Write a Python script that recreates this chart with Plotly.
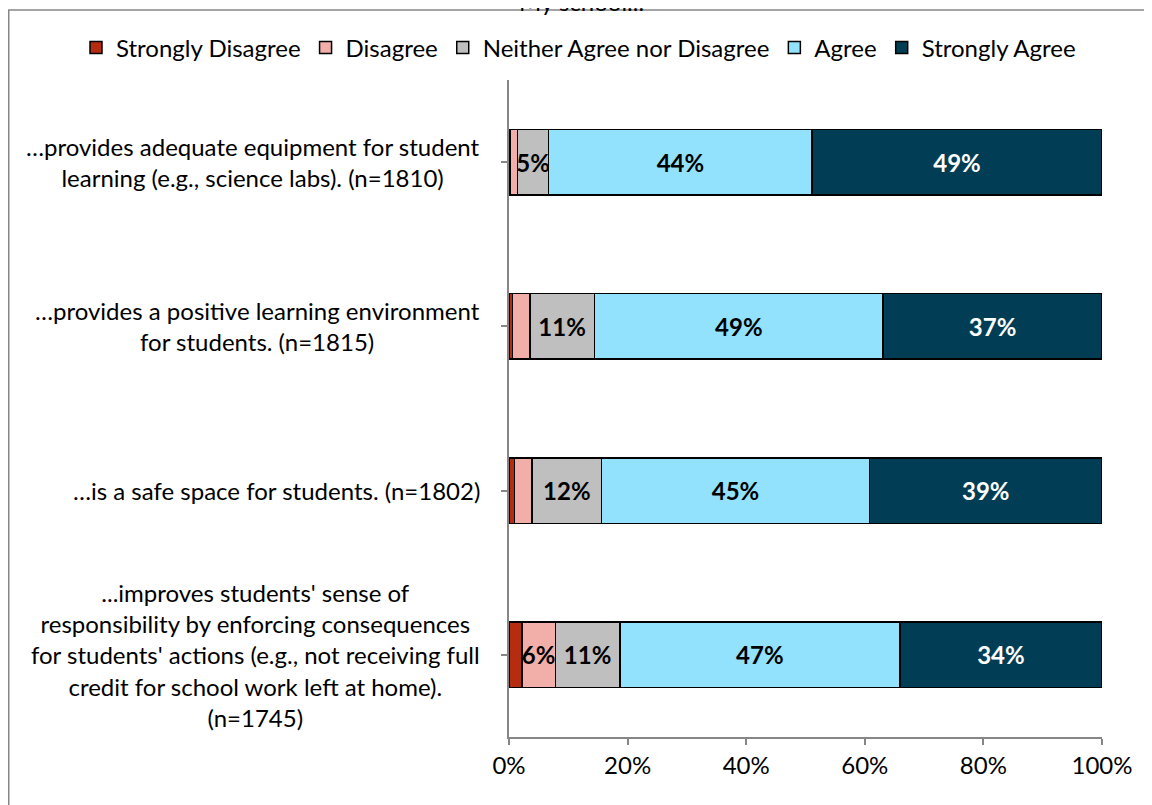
import plotly.graph_objects as go

categories = [
    "…provides adequate equipment for student<br>learning (e.g., science labs). (n=1810)",
    "…provides a positive learning environment<br>for students. (n=1815)",
    "…is a safe space for students. (n=1802)",
    "...improves students' sense of<br>responsibility by enforcing consequences<br>for students' actions (e.g., not receiving full<br>credit for school work left at home).<br>(n=1745)",
]
series_names = ["Strongly Disagree", "Disagree", "Neither Agree nor Disagree", "Agree", "Strongly Agree"]
strongly_disagree = [0.2, 0.6, 0.9, 2.2]
disagree = [1.2, 2.9, 3.0, 5.6]
neither = [5.3, 10.9, 11.7, 10.9]
agree = [44.4, 48.7, 45.2, 47.2]
strongly_agree = [48.9, 36.9, 39.2, 34.1]
values = [strongly_disagree, disagree, neither, agree, strongly_agree]
colors = ["#B52C10", "#F2AFA9", "#BFBFBF", "#93E2FD", "#013E55"]
label_colors = ["black", "black", "black", "black", "white"]
x_ticks = [0, 20, 40, 60, 80, 100]
x_tick_labels = ["0%", "20%", "40%", "60%", "80%", "100%"]
title_text = "My school..."

FONT = "Lato"
FS = 24
OFF = 8  # page body margin
W, H = 1152, 805
# plot area in page pixels: x 509..1102, y 80..737
L = 509 - OFF
T = 80 - OFF
pw = 593
ph = 657
R = W - L - pw
B = H - T - ph


def py(page_y):
    """page y pixel -> paper y"""
    return (T + ph - (page_y - OFF)) / ph


def px(page_x):
    return (page_x - OFF - L) / pw


fig = go.Figure()
ypos = list(range(len(categories)))[::-1]
for name, vals, col, lc in zip(series_names, values, colors, label_colors):
    txt = [f"{round(v):.0f}%" if v >= 5 else "" for v in vals]
    fig.add_trace(go.Bar(
        name=name, y=ypos, x=vals, orientation="h",
        marker=dict(color=col, line=dict(color="black", width=1.5)),
        text=txt, textposition="inside", insidetextanchor="middle",
        textangle=0, constraintext="none",
        textfont=dict(family=FONT, size=FS, color=lc, weight="bold"),
        hoverinfo="skip",
    ))

annotations = []
for yp, cat in zip(ypos, categories):
    annotations.append(dict(
        x=0, xref="paper", y=yp, yref="y", text=cat, showarrow=False,
        xanchor="right", yanchor="middle", align="center", xshift=-27,
        font=dict(family=FONT, size=FS, color="black"),
    ))
annotations.append(dict(
    x=px(581), xref="paper", y=py(1), yref="paper", text=title_text, showarrow=False,
    xanchor="center", yanchor="middle",
    font=dict(family=FONT, size=FS, color="black"),
))

fig.update_layout(
    width=W, height=H,
    margin=dict(l=L, r=R, t=T, b=B, autoexpand=False),
    paper_bgcolor="white", plot_bgcolor="white",
    barmode="stack", bargap=0.6,
    showlegend=True,
    legend=dict(orientation="h", xref="paper", x=px(76), xanchor="left",
                yref="paper", y=py(48), yanchor="middle",
                bgcolor="rgba(0,0,0,0)",
                font=dict(family=FONT, size=FS, color="black"),
                traceorder="normal", itemwidth=30, tracegroupgap=0),
    xaxis=dict(range=[0, 100], tickvals=x_ticks, ticktext=x_tick_labels,
               showgrid=False, zeroline=False, showline=True, linecolor="#868686", linewidth=1.5,
               ticks="outside", ticklen=6, tickcolor="#868686", tickwidth=1.5,
               tickfont=dict(family=FONT, size=FS, color="black"), fixedrange=True),
    yaxis=dict(range=[-0.5, len(categories) - 0.5], tickvals=ypos, showticklabels=False,
               tickson="boundaries", showgrid=False, zeroline=False,
               showline=True, linecolor="#868686", linewidth=1.5,
               ticks="outside", ticklen=6, tickcolor="#868686", tickwidth=1.5, fixedrange=True),
    annotations=annotations,
    shapes=[dict(type="rect", xref="paper", yref="paper",
                 x0=px(OFF + 0.75), x1=px(W + 40),
                 y0=py(H + 40), y1=py(10),
                 line=dict(color="#868686", width=1.5), fillcolor="rgba(0,0,0,0)", layer="below")],
)

fig.write_html("out.html")
